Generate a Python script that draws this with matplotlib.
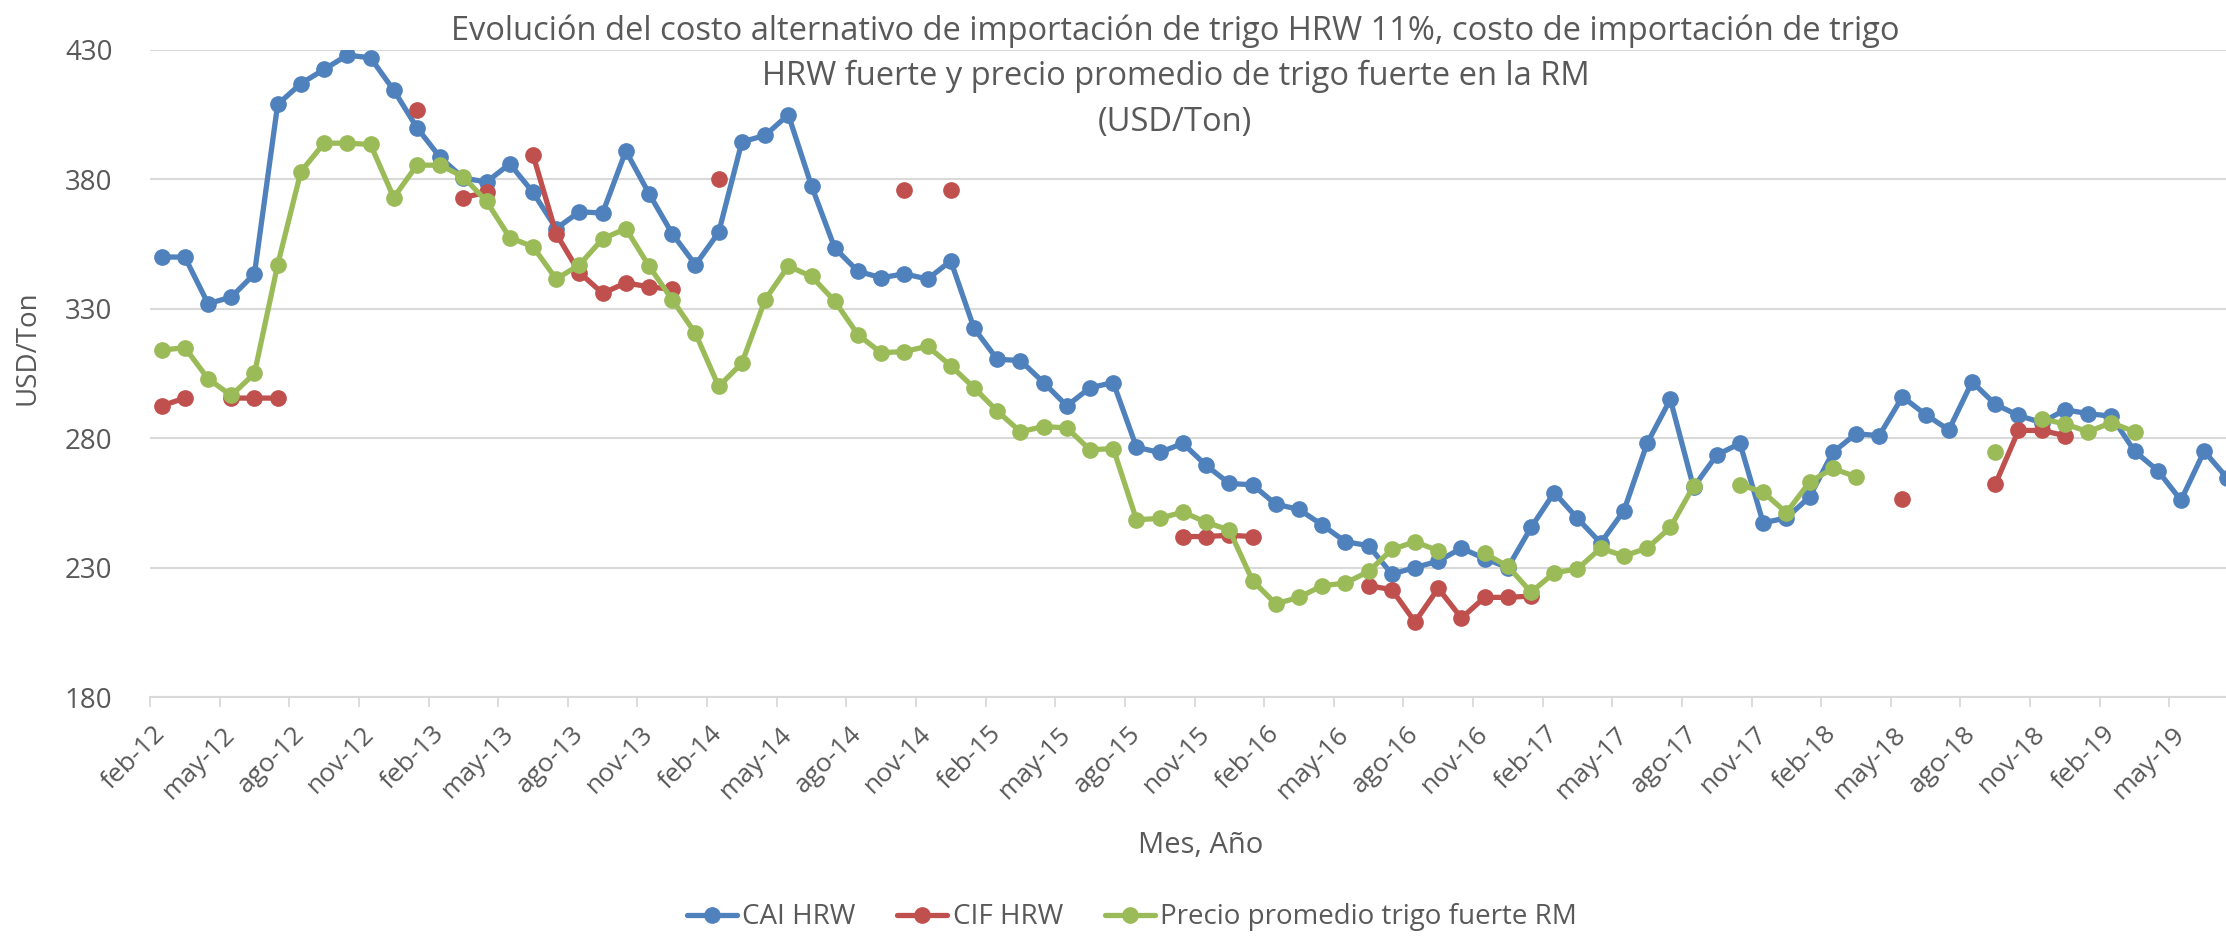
import numpy as np
import matplotlib
matplotlib.use("Agg")
import matplotlib.pyplot as plt

# ---- datos (USD/Ton), mensual feb-12 .. jul-19 ----
meses = ['ene', 'feb', 'mar', 'abr', 'may', 'jun', 'jul', 'ago', 'sep', 'oct', 'nov', 'dic']
categorias = [f"{meses[(1 + k) % 12]}-{12 + (1 + k) // 12}" for k in range(90)]

cai_hrw = [350, 350, 332, 334.5, 343.5, 409, 417, 422.5, 428, 427,
           414.5, 400, 388.5, 380.5, 379, 386, 375, 361, 367.5, 367,
           391, 374.5, 359, 347, 359.5, 394.5, 397, 405, 377.5, 353.5,
           344.5, 342, 343.5, 341.5, 348.5, 322.5, 310.5, 310, 301.5, 292.5,
           299.5, 301.5, 276.5, 274.5, 278, 269.5, 262.5, 262, 254.5, 252.5,
           246.5, 240, 238.5, 227.5, 230, 232.5, 237.5, 233.5, 230, 245.5,
           259, 249, 239.5, 252, 278, 295, 261, 273.5, 278, 247.3,
           249.2, 257.3, 274.5, 281.7, 281, 296, 289.1, 283.2, 301.8, 293.1,
           288.8, 286, 291, 289.5, 288.5, 275, 267.5, 256, 275, 264.5]

cif_hrw = [292.5, 295.5, None, 295.5, 295.5, 295.5, None, None, None, None,
           None, 407, None, 373, 375, None, 389.5, 359, 344, 336,
           340, 338.5, 337.5, None, 380, None, None, None, None, None,
           None, None, 376, None, 376, None, None, None, None, None,
           None, None, None, None, 242, 242, 242.5, 242, None, None,
           None, None, 223, 221.5, 209, 222, 210.5, 218.5, 218.5, 219,
           None, None, None, None, None, None, None, None, None, None,
           None, None, None, None, None, 256.6, None, None, None, 262.2,
           283, 283, 281, None, None, None, None, None, None, None]

precio_rm = [314, 315, 303, 296.5, 305, 347, 383, 394, 394, 393.5,
             373, 385.5, 385.5, 381, 371.5, 357.5, 354, 341.5, 347, 357,
             361, 346.5, 333.5, 320.5, 300, 309, 333.5, 346.5, 342.5, 333,
             320, 313, 313.5, 315.5, 308, 299.5, 290.5, 282.5, 284.5, 284,
             275.5, 276, 248.5, 249, 251.5, 247.5, 244.5, 225, 216, 218.5,
             223, 224, 228.5, 237, 240, 236.5, None, 235.5, 230.5, 220.5,
             228, 229.5, 237.5, 234.5, 237.5, 245.5, 261.5, None, 262, 259.2,
             251.2, 263.1, 268.3, 265.1, None, None, None, None, None, 274.8,
             None, 287.5, 285.5, 282.5, 286, 282.5, None, None, None, None]

series = [("CAI HRW", cai_hrw, "#4F81BD"),
          ("CIF HRW", cif_hrw, "#C0504D"),
          ("Precio promedio trigo fuerte RM", precio_rm, "#9BBB59")]

plt.rcParams['font.family'] = ['Open Sans', 'DejaVu Sans']
gris = "#595959"
grid_c = "#D9D9D9"

fig = plt.figure(figsize=(22.26, 9.36), dpi=100)
ax = fig.add_axes([150 / 2226, 1 - 697 / 936, 2089 / 2226, 647 / 936])

x = np.arange(len(categorias))
for nombre, vals, color in series:
    ax.plot(x, np.array(vals, dtype=float), color=color, lw=3.8,
            marker='o', ms=11, mec=color, mfc=color, label=nombre,
            solid_capstyle='round')

ax.set_xlim(-0.5, len(categorias) - 0.5)
ax.set_ylim(180, 430)
ax.set_yticks(np.arange(180, 431, 50))
ax.grid(axis='y', color=grid_c, lw=1.5)
ax.set_axisbelow(True)

ax.set_xticks(x[::3])
ax.set_xticklabels(categorias[::3], rotation=45, ha='right', va='center',
                   rotation_mode='anchor')
ax.set_xticks(np.arange(-0.5, len(categorias), 3), minor=True)
ax.tick_params(axis='x', which='major', length=0, pad=24, labelsize=19, labelcolor=gris)
ax.tick_params(axis='x', which='minor', length=7, width=1.3, color=grid_c)
ax.tick_params(axis='y', length=0, pad=27, labelsize=20, labelcolor=gris)

for s in ['top', 'right', 'left']:
    ax.spines[s].set_visible(False)
ax.spines['bottom'].set_color(grid_c)
ax.spines['bottom'].set_linewidth(1.5)

ax.set_xlabel("Mes, Año", fontsize=21, color=gris)
ax.xaxis.set_label_coords(0.503, -0.207)
ax.set_ylabel("USD/Ton", fontsize=20, color=gris)
ax.yaxis.set_label_coords(-0.052, 0.54)

fig.text(0.528, 0.985,
         "Evolución del costo alternativo de importación de trigo HRW 11%, costo de importación de trigo\n"
         "HRW fuerte y precio promedio de trigo fuerte en la RM\n(USD/Ton)",
         ha='center', va='top', fontsize=23.5, color=gris, linespacing=1.5)

fig.legend(loc='center', bbox_to_anchor=(0.5085, 0.02), ncol=3, frameon=False,
           fontsize=20, handlelength=1.8, columnspacing=1.5, handletextpad=0.2,
           labelcolor=gris)

fig.savefig("out.png", dpi=100)
